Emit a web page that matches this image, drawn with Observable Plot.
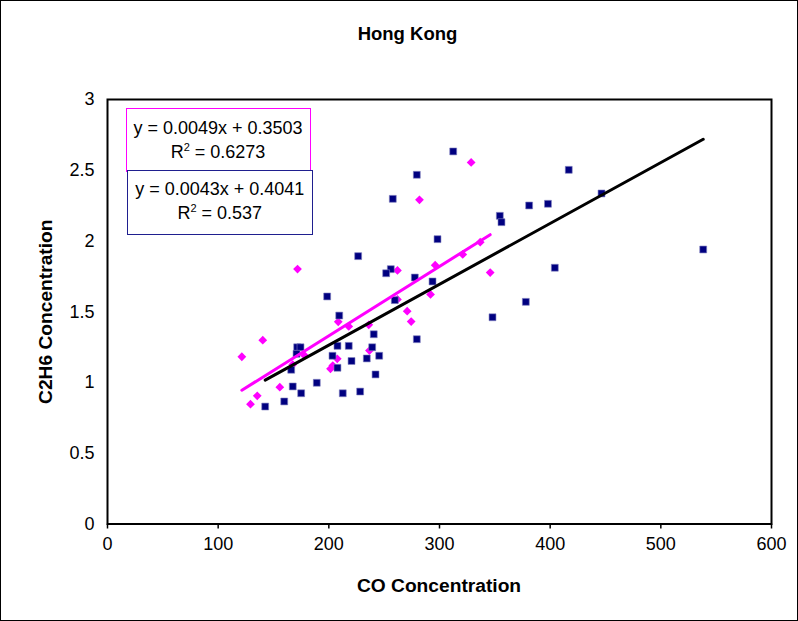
<!DOCTYPE html>
<html><head><meta charset="utf-8">
<script src="https://cdn.jsdelivr.net/npm/d3@7"></script>
<script src="https://cdn.jsdelivr.net/npm/@observablehq/plot@0.6"></script>
<style>
body{margin:0;background:#fff;}
#chart{position:relative;width:798px;height:621px;font-family:Arial,"Liberation Sans",sans-serif;color:#000;overflow:hidden;}
#title{position:absolute;left:0;top:24px;width:815px;text-align:center;font-weight:bold;font-size:18.5px;line-height:20px;}
#plot{position:absolute;left:0;top:0;}
#border{position:absolute;left:0;top:0;width:798px;height:621px;box-sizing:border-box;border:1.5px solid #000;pointer-events:none;}
.eq{position:absolute;box-sizing:border-box;text-align:center;font-size:18px;line-height:24px;background:#fff;}
</style></head>
<body>
<div id="chart">
  <div id="plot"></div>
  <div id="title">Hong Kong</div>
  <div class="eq" id="eq1" style="left:125.5px;top:107.5px;width:185px;height:64.5px;border:1px solid #FF00FF;padding-top:7px;"></div>
  <div class="eq" id="eq2" style="left:127px;top:170px;width:185.5px;height:64.5px;border:1px solid #1F1F8F;padding-top:6px;"></div>
  <div id="border"></div>
</div>
<script>
// Series 1 (navy squares)
const navyX = [142.5,159.7,175.0,167.4,189.1,166.0,171.4,174.4,170.8,198.5,209.4,207.8,203.3,207.8,212.6,218.0,220.5,228.3,240.6,239.2,245.5,234.3,242.2,279.5,226.5,256.0,251.8,277.7,293.7,259.6,257.8,279.5,312.4,298.2,354.5,356.0,381.0,398.0,416.8,446.4,378.0,347.9,404.2,538.3];
const navyY = [0.83,0.866,0.924,0.972,0.998,1.09,1.249,1.249,1.203,1.608,1.473,1.259,1.189,1.104,0.924,1.259,1.152,0.936,1.341,1.249,1.189,1.17,1.057,1.306,1.893,1.801,1.772,1.742,1.714,1.582,2.298,2.468,2.633,2.013,2.178,2.133,2.251,2.263,2.503,2.336,1.57,1.461,1.811,1.94];
// Series 2 (magenta diamonds)
const magX = [121.4,140.3,129.2,135.3,155.7,167.4,178.0,171.7,201.5,203.6,207.6,208.5,218.0,236.1,236.7,262.0,262.0,270.8,274.4,281.9,291.9,296.1,321.0,336.8,345.8,328.6];
const magY = [1.182,1.299,0.847,0.906,0.967,1.127,1.191,1.802,1.097,1.12,1.167,1.429,1.396,1.408,1.226,1.792,1.587,1.504,1.431,2.291,1.622,1.829,1.905,1.992,1.777,2.555];
// Trendline equations as shown
const fitSlopes = [0.0049, 0.0043];      // magenta, navy
const fitIntercepts = [0.3503, 0.4041];
const fitR2 = ["0.6273", "0.537"];
// Axes
const xTicks = [0,100,200,300,400,500,600];
const yTicks = [0,0.5,1,1.5,2,2.5,3];
const yTickLabels = ["0","0.5","1","1.5","2","2.5","3"];
const xTitle = "CO Concentration";
const yTitle = "C2H6 Concentration";

const navy = navyX.map((x,i)=>({x, y:navyY[i]}));
const mag = magX.map((x,i)=>({x, y:magY[i]}));
const fitLine = (xs, k) => d3.extent(xs).map(x => ({x, y: fitSlopes[k]*x + fitIntercepts[k]}));

const fmt = v => (v >= 0 ? "+ " : "- ") + Math.abs(v).toFixed(4);
document.getElementById("eq1").innerHTML = `y = ${fitSlopes[0].toFixed(4)}x ${fmt(fitIntercepts[0])}<br>R<sup style="font-size:11px;vertical-align:7px;line-height:0">2</sup> = ${fitR2[0]}`;
document.getElementById("eq2").innerHTML = `y = ${fitSlopes[1].toFixed(4)}x ${fmt(fitIntercepts[1])}<br>R<sup style="font-size:11px;vertical-align:7px;line-height:0">2</sup> = ${fitR2[1]}`;

const plot = Plot.plot({
  width: 798, height: 621,
  marginLeft: 107, marginRight: 27, marginTop: 99, marginBottom: 97.5,
  style: {fontSize: "18px", fontFamily: "Arial, 'Liberation Sans', sans-serif", background: "#fff", color: "#000"},
  x: {domain: [0, 600]},
  y: {domain: [0, 3]},
  marks: [
    Plot.axisX({ticks: xTicks, tickSize: 5, tickPadding: 8, label: null, strokeWidth: 1.5, tickFormat: d => String(d)}),
    Plot.axisY({ticks: yTicks, tickSize: 0, tickPadding: 13, label: null, tickFormat: (d,i) => yTickLabels[yTicks.indexOf(d)]}),
    Plot.dot(mag, {x: "x", y: "y", symbol: "square", rotate: 45, r: 3.5, fill: "#FF00FF", stroke: "none"}),
    Plot.dot(navy, {x: "x", y: "y", symbol: "square", r: 3.9, fill: "#000080", stroke: "#8080C0", strokeWidth: 0.6}),
    Plot.line(fitLine(navyX, 1), {x: "x", y: "y", stroke: "#000", strokeWidth: 3}),
    Plot.line(fitLine(magX, 0), {x: "x", y: "y", stroke: "#FF00FF", strokeWidth: 3}),
    Plot.frame({stroke: "#000", strokeWidth: 2}),
    Plot.text([xTitle], {frameAnchor: "bottom", lineAnchor: "middle", dy: 62, dx: -0.5, fontWeight: "bold", fontSize: 19.2}),
    Plot.text([yTitle], {frameAnchor: "left", textAnchor: "middle", lineAnchor: "middle", dx: -62, rotate: -90, fontWeight: "bold", fontSize: 19.2})
  ]
});
document.getElementById("plot").appendChild(plot);
</script>
</body></html>
